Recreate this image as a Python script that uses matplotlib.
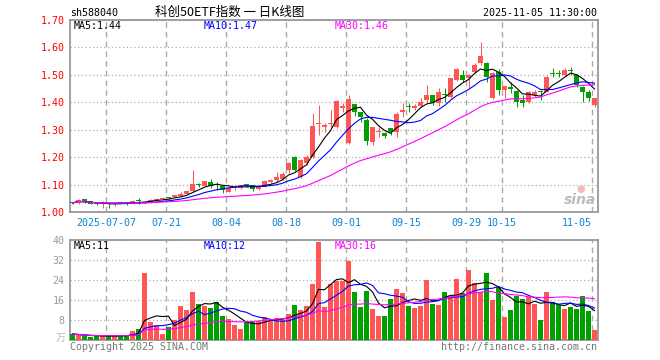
import numpy as np
import pandas as pd
import matplotlib
matplotlib.use('Agg')
import matplotlib.pyplot as plt

plt.rcParams['font.family'] = ['DejaVu Sans Mono', 'Noto Sans CJK SC']

# 日K数据：开、高、低、收
open_ = [1.035, 1.032, 1.047, 1.040, 1.030, 1.028, 1.031, 1.029, 1.036, 1.033,
         1.032, 1.042, 1.034, 1.035, 1.044, 1.048, 1.053, 1.056, 1.060, 1.066,
         1.075, 1.101, 1.096, 1.111, 1.101, 1.094, 1.074, 1.086, 1.086, 1.099,
         1.098, 1.085, 1.092, 1.110, 1.117, 1.119, 1.153, 1.202, 1.126, 1.177,
         1.200, 1.320, 1.311, 1.320, 1.311, 1.380, 1.250, 1.393, 1.363, 1.335,
         1.256, 1.291, 1.289, 1.305, 1.293, 1.363, 1.387, 1.378, 1.387, 1.408,
         1.426, 1.396, 1.428, 1.420, 1.482, 1.500, 1.487, 1.510, 1.542, 1.542,
         1.414, 1.512, 1.445, 1.453, 1.441, 1.410, 1.402, 1.427, 1.438, 1.439,
         1.506, 1.506, 1.4995, 1.518, 1.4995, 1.457, 1.437, 1.390]
high = [1.037, 1.046, 1.048, 1.041, 1.032, 1.040, 1.032, 1.038, 1.037, 1.035,
        1.042, 1.050, 1.039, 1.046, 1.050, 1.055, 1.055, 1.063, 1.073, 1.076,
        1.153, 1.105, 1.113, 1.119, 1.111, 1.096, 1.090, 1.098, 1.100, 1.102,
        1.100, 1.093, 1.116, 1.120, 1.147, 1.147, 1.183, 1.205, 1.193, 1.208,
        1.362, 1.390, 1.326, 1.372, 1.408, 1.396, 1.427, 1.395, 1.365, 1.341,
        1.311, 1.311, 1.291, 1.307, 1.366, 1.396, 1.396, 1.392, 1.416, 1.463,
        1.428, 1.451, 1.451, 1.490, 1.524, 1.518, 1.502, 1.542, 1.621, 1.548,
        1.512, 1.520, 1.461, 1.475, 1.443, 1.4265, 1.441, 1.443, 1.445, 1.495,
        1.524, 1.518, 1.524, 1.530, 1.502, 1.460, 1.445, 1.416]
low = [1.030, 1.030, 1.034, 1.028, 1.026, 1.016, 1.016, 1.021, 1.031, 1.024,
       1.031, 1.029, 1.031, 1.034, 1.043, 1.046, 1.047, 1.055, 1.058, 1.064,
       1.073, 1.092, 1.094, 1.086, 1.082, 1.070, 1.072, 1.080, 1.085, 1.091,
       1.076, 1.082, 1.090, 1.104, 1.110, 1.117, 1.141, 1.150, 1.124, 1.171,
       1.196, 1.281, 1.293, 1.311, 1.308, 1.365, 1.248, 1.351, 1.327, 1.244,
       1.244, 1.275, 1.269, 1.281, 1.275, 1.348, 1.364, 1.372, 1.383, 1.396,
       1.390, 1.388, 1.402, 1.416, 1.479, 1.475, 1.451, 1.506, 1.536, 1.475,
       1.411, 1.4265, 1.414, 1.433, 1.384, 1.384, 1.398, 1.420, 1.408, 1.436,
       1.491, 1.493, 1.497, 1.4995, 1.457, 1.402, 1.405, 1.384]
close = [1.033, 1.044, 1.035, 1.029, 1.028, 1.031, 1.029, 1.031, 1.032, 1.031,
         1.041, 1.039, 1.038, 1.045, 1.048, 1.051, 1.051, 1.062, 1.064, 1.075,
         1.102, 1.099, 1.112, 1.095, 1.099, 1.082, 1.089, 1.092, 1.098, 1.097,
         1.085, 1.091, 1.113, 1.117, 1.129, 1.138, 1.177, 1.153, 1.190, 1.202,
         1.3135, 1.326, 1.316, 1.325, 1.405, 1.386, 1.411, 1.363, 1.345, 1.260,
         1.311, 1.294, 1.278, 1.293, 1.358, 1.372, 1.381, 1.387, 1.402, 1.426,
         1.396, 1.439, 1.425, 1.487, 1.521, 1.481, 1.500, 1.536, 1.569, 1.493,
         1.5055, 1.445, 1.459, 1.450, 1.402, 1.398, 1.4386, 1.439, 1.436, 1.493,
         1.504, 1.503, 1.518, 1.514, 1.463, 1.437, 1.414, 1.414]
# 成交量（万）
volume = [2.4, 2.0, 1.6, 1.3, 1.6, 1.6, 1.6, 1.6, 1.9, 1.9,
          3.7, 4.5, 26.9, 7.2, 5.9, 2.4, 5.3, 8.0, 13.6, 12.0,
          19.2, 14.4, 13.6, 12.8, 15.2, 9.6, 8.4, 6.0, 4.4, 7.2,
          7.2, 7.6, 9.2, 8.0, 8.8, 8.0, 10.4, 14.0, 12.0, 13.6,
          22.4, 39.2, 13.3, 22.4, 23.7, 23.7, 31.6, 19.2, 13.2, 19.6,
          12.4, 9.6, 9.6, 16.4, 20.4, 18.9, 13.6, 12.8, 13.6, 24.0,
          14.4, 14.0, 19.2, 17.6, 24.4, 18.9, 28.0, 22.8, 19.2, 26.8,
          16.0, 21.2, 9.2, 12.0, 17.6, 16.4, 17.2, 14.4, 8.0, 19.2,
          15.2, 14.0, 12.4, 13.2, 12.4, 17.6, 11.6, 4.0]

tick_pos = [6, 16, 26, 36, 46, 56, 66, 72, 87]
tick_labels = ['2025-07-07', '07-21', '08-04', '08-18', '09-01',
               '09-15', '09-29', '10-15', '11-05']
price_ticks = [1.00, 1.10, 1.20, 1.30, 1.40, 1.50, 1.60, 1.70]
vol_ticks = [8, 16, 24, 32, 40]
price_ma_text = ['MA5:1.44', 'MA10:1.47', 'MA30:1.46']
vol_ma_text = ['MA5:11', 'MA10:12', 'MA30:16']

RED = '#ff5555'
GREEN = '#00a000'
GRAY = '#999999'
MA_COLORS = ['black', '#0000ff', '#ff00ff']

o = np.array(open_)
h = np.array(high)
l = np.array(low)
c = np.array(close)
v = np.array(volume)
n = len(c)
x = np.arange(n)
w = 5 / 6
cx = x + w / 2
colors = np.where(c >= o, RED, GREEN)

W, H = 660, 360
fig = plt.figure(figsize=(6.6, 3.6), dpi=100)
ax1 = fig.add_axes([70 / W, 1 - 212 / H, 528 / W, 192 / H])
ax2 = fig.add_axes([70 / W, 1 - 340 / H, 528 / W, 100 / H])

# K线
ax1.vlines(cx, l, h, colors=colors, linewidth=0.75, zorder=3)
body_low = np.minimum(o, c)
body_h = np.maximum(np.abs(c - o), 0.004)
ax1.bar(x, body_h, w, bottom=body_low, align='edge', color=colors,
        linewidth=0, zorder=3)

# 均线
cs = pd.Series(c)
for p, col in zip([5, 10, 30], MA_COLORS):
    ax1.plot(cx, cs.rolling(p, min_periods=1).mean(), color=col, lw=0.8, zorder=4)

# 成交量
ax2.bar(x, v, w, align='edge', color=colors, linewidth=0, zorder=3)
vs = pd.Series(v)
for p, col in zip([5, 10, 30], MA_COLORS):
    ax2.plot(cx, vs.rolling(p, min_periods=1).mean(), color=col, lw=0.8, zorder=4)

for ax in (ax1, ax2):
    ax.set_xlim(0, 88)
    ax.set_xticks(tick_pos)
    ax.grid(axis='x', color='#aaaaaa', linestyle=(0, (4, 3)), lw=1)
    ax.grid(axis='y', color='#aaaaaa', linestyle=(0, (1, 2)), lw=0.9)
    ax.set_axisbelow(True)
    for s in ax.spines.values():
        s.set_color(GRAY)
        s.set_linewidth(1.3)
    ax.tick_params(length=0)

ax1.set_ylim(1.0, 1.7)
ax1.set_yticks(price_ticks)
ax1.set_yticklabels(['%.2f' % t for t in price_ticks], color='red', fontsize=7.2)
ax1.set_xticklabels(tick_labels, color='#0a84d6', fontsize=7.2)
ax1.tick_params(axis='x', pad=4.5)
ax1.tick_params(axis='y', pad=4)
ax1.get_xticklabels()[-1].set_ha('right')

ax2.set_ylim(0, 40)
ax2.set_yticks(vol_ticks)
ax2.set_yticklabels([str(t) for t in vol_ticks], color=GRAY, fontsize=7.2)
ax2.set_xticklabels([])
ax2.tick_params(axis='y', pad=4)


def ftext(px, py, s, **kw):
    kw.setdefault('fontsize', 7.2)
    fig.text(px / W, 1 - py / H, s, va='center', **kw)


ftext(70, 13, 'sh588040')
ftext(230, 12, '科创50ETF指数 一 日K线图', ha='center', fontsize=9,
      family=['Noto Sans CJK SC', 'DejaVu Sans'])
ftext(597, 13, '2025-11-05 11:30:00', ha='right')
for px, s, col in zip([74, 204, 335], price_ma_text, MA_COLORS):
    ftext(px, 26, s, color=col)
for px, s, col in zip([74, 204, 335], vol_ma_text, MA_COLORS):
    ftext(px, 246, s, color=col)
ftext(56, 338, '万', color='#bbbbbb', family=['Noto Sans CJK SC', 'DejaVu Sans'])
ftext(70, 347, 'Copyright 2025 SINA.COM', color='#777777')
ftext(597, 347, 'http://finance.sina.com.cn', ha='right', color='#777777')
# 水印
ftext(580, 200, 'sina', ha='center', color='#bbbbbb', fontsize=10,
      style='italic', weight='bold', family=['DejaVu Sans'])
ftext(581, 189, '●', ha='center', color='#f6b8b8', fontsize=7,
      family=['DejaVu Sans'])

fig.savefig('out.png', dpi=100)
